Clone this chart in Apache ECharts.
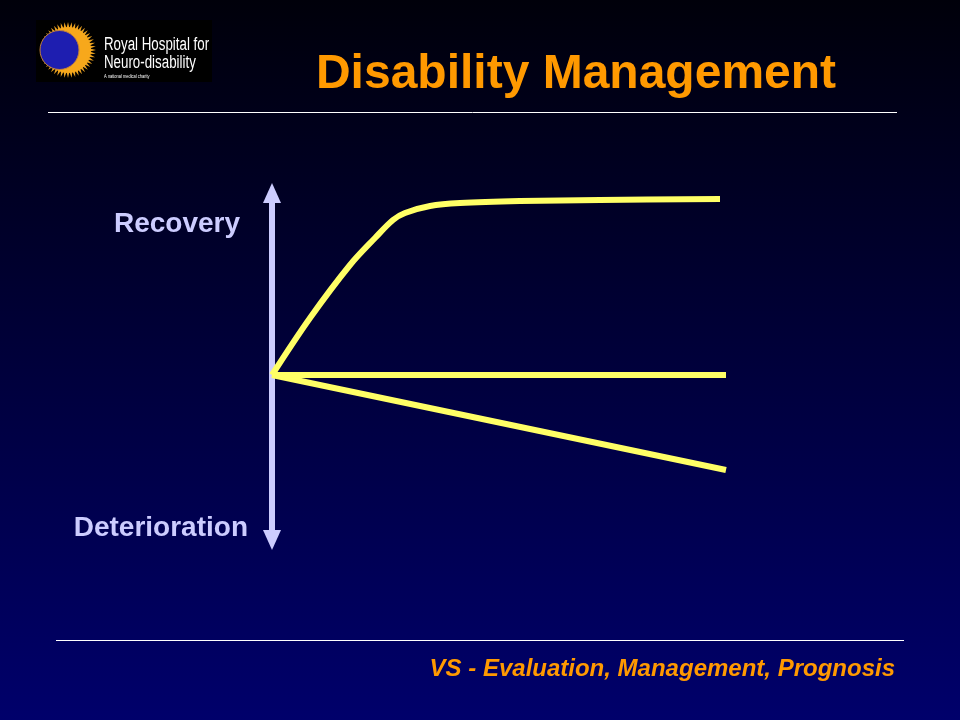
<!DOCTYPE html>
<html><head><meta charset="utf-8">
<script src="https://cdn.jsdelivr.net/npm/echarts@6/dist/echarts.min.js"></script>
<style>html,body{margin:0;padding:0;background:#000;}#c{width:960px;height:720px;}</style>
</head><body><div id="c"></div>
<script>
// Data (arbitrary units: time on x, change from baseline on y)
var recoveryX = [0, 38, 78, 103, 121, 133, 158, 188, 248, 328, 448];
var recoveryY = [0, 57, 110, 137, 155, 162, 169, 172, 174, 175, 176];
var stableX = [0, 454];
var stableY = [0, 0];
var deteriorationX = [0, 454];
var deteriorationY = [0, -95];
var axisLabels = ['Recovery', 'Deterioration'];

function pairs(xs, ys) { return xs.map(function (x, i) { return [x, ys[i]]; }); }

var chart = echarts.init(document.getElementById('c'));
var yellow = '#ffff66';
var lav = '#ccccff';
var orange = '#ff9900';
var font = 'Liberation Sans, Arial, sans-serif';

// sun rays polygon for the logo (decoration)
var rays = [];
var nR = 48;
for (var i = 0; i < nR * 2; i++) {
  var a = Math.PI * i / nR;
  var r = (i % 2 === 0) ? 28 : 22;
  rays.push([68 + r * Math.cos(a), 50 + r * Math.sin(a)]);
}

chart.setOption({
  backgroundColor: {
    type: 'linear', x: 0, y: 0, x2: 0, y2: 1,
    colorStops: [{offset: 0, color: '#00000a'}, {offset: 1, color: '#00006b'}]
  },
  animation: false,
  grid: {left: 272, right: 234, top: 202, bottom: 189},
  xAxis: {type: 'value', min: 0, max: 454, show: false},
  yAxis: {
    type: 'value', min: -156, max: 173,
    axisLine: {show: true, lineStyle: {color: lav, width: 6, cap: 'butt'},
      symbol: ['triangle', 'triangle'], symbolSize: [18, 20], symbolOffset: [-9, 9]},
    axisTick: {show: false}, axisLabel: {show: false}, splitLine: {show: false}
  },
  series: [
    {type: 'line', data: pairs(recoveryX, recoveryY), smooth: 0.35, symbol: 'none', clip: false,
      lineStyle: {color: yellow, width: 6}},
    {type: 'line', data: pairs(stableX, stableY), symbol: 'none', clip: false,
      lineStyle: {color: yellow, width: 6}},
    {type: 'line', data: pairs(deteriorationX, deteriorationY), symbol: 'none', clip: false,
      lineStyle: {color: yellow, width: 6}}
  ],
  graphic: [
    // title
    {type: 'text', x: 576, y: 75, style: {text: 'Disability Management', font: 'bold 48px ' + font, fill: orange, textAlign: 'center', textVerticalAlign: 'middle'}},
    // rules
    {type: 'line', shape: {x1: 48, y1: 112.5, x2: 897, y2: 112.5}, style: {stroke: '#ffffff', lineWidth: 1}},
    {type: 'line', shape: {x1: 56, y1: 640.5, x2: 904, y2: 640.5}, style: {stroke: '#ffffff', lineWidth: 1}},
    // footer
    {type: 'text', x: 895, y: 669, style: {text: 'VS - Evaluation, Management, Prognosis', font: 'italic bold 24px ' + font, fill: orange, textAlign: 'right', textVerticalAlign: 'middle'}},
    // axis labels
    {type: 'text', x: 240, y: 224, style: {text: axisLabels[0], font: 'bold 28px ' + font, fill: lav, textAlign: 'right', textVerticalAlign: 'middle'}},
    {type: 'text', x: 248, y: 528, style: {text: axisLabels[1], font: 'bold 28px ' + font, fill: lav, textAlign: 'right', textVerticalAlign: 'middle'}},
    // logo
    {type: 'rect', shape: {x: 36, y: 20, width: 176, height: 62}, style: {fill: '#000000'}},
    {type: 'polygon', shape: {points: rays}, style: {fill: '#e8a020'}},
    {type: 'circle', shape: {cx: 68, cy: 50, r: 23}, style: {fill: '#f7a81b'}},
    {type: 'circle', shape: {cx: 59.5, cy: 50, r: 19.5}, style: {fill: '#1e1eb0', stroke: '#c08040', lineWidth: 1}},
    {type: 'text', x: 104, y: 45, scaleX: 0.74, style: {text: 'Royal Hospital for', font: '18px ' + font, fill: '#ffffff', textVerticalAlign: 'middle'}},
    {type: 'text', x: 104, y: 63, scaleX: 0.74, style: {text: 'Neuro-disability', font: '18px ' + font, fill: '#ffffff', textVerticalAlign: 'middle'}},
    {type: 'text', x: 104, y: 77, scaleX: 0.8, style: {text: 'A national medical charity', font: '5px ' + font, fill: '#ffffff', textVerticalAlign: 'middle'}}
  ]
});
</script></body></html>
